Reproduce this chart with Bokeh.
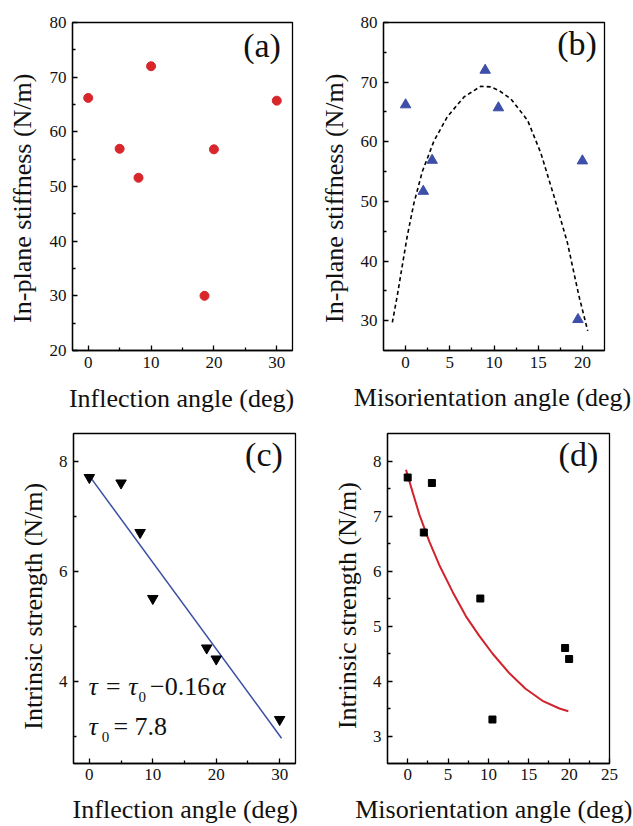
import math
from bokeh.plotting import figure
from bokeh.layouts import column, row
from bokeh.models import FixedTicker, Label, Range1d
from bokeh.embed import file_html
from bokeh.resources import INLINE

FONT = "Liberation Serif"
RED = "#d8262b"
BLUE = "#3d4fa8"
LINE_BLUE = "#3a4ea3"
CURVE_RED = "#d1232b"

# ---- panel (a): in-plane stiffness vs inflection angle ----
a_angle = [0, 5, 8, 10, 18.5, 20, 30]
a_stiff = [66.2, 56.9, 51.6, 72.0, 30.0, 56.8, 65.7]

# ---- panel (b): in-plane stiffness vs misorientation angle ----
b_angle = [0, 2, 3, 9, 10.5, 19.5, 20]
b_stiff = [66.2, 51.7, 56.9, 72.0, 65.7, 30.2, 56.8]
b_fit_x = [-1.5, -0.94, -0.38, 0.19, 0.94, 1.89, 3.2, 4.72, 6.6, 8.49, 9.62,
           10.57, 11.9, 13.8, 15.3, 16.8, 18.3, 19.6, 20.6]
b_fit_y = [29.7, 34.2, 39.2, 44.2, 49.7, 55.0, 60.1, 64.2, 67.5, 69.3, 69.2,
           68.6, 67.2, 63.6, 58.1, 50.8, 43.1, 34.2, 28.3]

# ---- panel (c): intrinsic strength vs inflection angle ----
c_angle = [0, 5, 8, 10, 18.5, 20, 30]
c_strength = [7.7, 7.6, 6.7, 5.5, 4.6, 4.4, 3.3]
c_fit_x = [0, 30.3]
c_fit_y = [7.73, 2.96]

# ---- panel (d): intrinsic strength vs misorientation angle ----
d_angle = [0, 2, 3, 9, 10.5, 19.5, 20]
d_strength = [7.7, 6.7, 7.6, 5.5, 3.3, 4.6, 4.4]
d_fit_x = [-0.21, 0.62, 1.44, 2.67, 3.91, 5.57, 7.2, 8.87, 10.5, 12.6, 14.6,
           16.7, 18.8, 19.9]
d_fit_y = [7.84, 7.43, 7.03, 6.54, 6.11, 5.62, 5.18, 4.82, 4.50, 4.14, 3.86,
           3.64, 3.50, 3.45]

# ---- ticks ----
a_xticks, a_xminor = [0, 10, 20, 30], [5, 15, 25]
a_yticks, a_yminor = [20, 30, 40, 50, 60, 70, 80], [25, 35, 45, 55, 65, 75]
b_xticks, b_xminor = [0, 5, 10, 15, 20], [2.5, 7.5, 12.5, 17.5]
b_yticks, b_yminor = [30, 40, 50, 60, 70, 80], [35, 45, 55, 65, 75]
c_xticks, c_xminor = [0, 10, 20, 30], [5, 15, 25]
c_yticks, c_yminor = [4, 6, 8], [3, 5, 7]
d_xticks, d_xminor = [0, 5, 10, 15, 20, 25], [2.5, 7.5, 12.5, 17.5, 22.5]
d_yticks, d_yminor = [3, 4, 5, 6, 7, 8], [3.5, 4.5, 5.5, 6.5, 7.5]

# ---- axis titles ----
stiff_title = "In-plane stiffness (N/m)"
strength_title = "Intrinsic strength (N/m)"
inflect_title = "Inflection angle (deg)"
misor_title = "Misorientation angle (deg)"

LABEL_PX = 26
TICK_SIZE = "17px"
PANEL_PX = 34
BASELINE_FIX = 0.38   # empirical correction of the rendered baseline (em)


def make_fig(w, h, xr, yr, borders):
    l, r, t, b = borders
    p = figure(width=w, height=h, x_range=Range1d(*xr), y_range=Range1d(*yr),
               output_backend="svg", toolbar_location=None, tools="",
               min_border_left=l, min_border_right=r,
               min_border_top=t, min_border_bottom=b)
    p.xgrid.visible = False
    p.ygrid.visible = False
    p.outline_line_color = "black"
    p.outline_line_width = 1.3
    return p


def text_strip(w, h):
    """A bare canvas (no axes) used to hold axis titles as plain text."""
    s = figure(width=w, height=h, x_range=Range1d(0, w), y_range=Range1d(0, h),
               output_backend="svg", toolbar_location=None, tools="",
               x_axis_type=None, y_axis_type=None,
               min_border_left=0, min_border_right=0,
               min_border_top=0, min_border_bottom=0)
    s.xgrid.visible = False
    s.ygrid.visible = False
    s.outline_line_color = None
    return s


def style_axes(p, xt, xm, yt, ym, xstand=6):
    p.xaxis[0].ticker = FixedTicker(ticks=xt, minor_ticks=xm)
    p.yaxis[0].ticker = FixedTicker(ticks=yt, minor_ticks=ym)
    for ax in (p.xaxis[0], p.yaxis[0]):
        ax.axis_line_color = "black"
        ax.axis_line_width = 1.3
        ax.major_tick_in = 5
        ax.major_tick_out = 0
        ax.minor_tick_in = 3
        ax.minor_tick_out = 0
        ax.major_tick_line_color = "black"
        ax.major_tick_line_width = 1.3
        ax.minor_tick_line_color = "black"
        ax.minor_tick_line_width = 1.3
        ax.major_label_text_font = FONT
        ax.major_label_text_font_size = TICK_SIZE
        ax.major_label_text_color = "#111111"
    p.xaxis[0].major_label_standoff = xstand
    p.yaxis[0].major_label_standoff = 6


def add_text(p, x, y, text, px=LABEL_PX, align="center", rotated=False,
             style="normal"):
    fix = BASELINE_FIX * px
    p.add_layout(Label(x=x, y=y, text=text, text_font=FONT,
                       text_font_size=f"{px}px", text_align=align,
                       text_baseline="alphabetic",
                       angle=math.pi / 2 if rotated else 0.0,
                       x_offset=-fix if rotated else 0,
                       y_offset=0 if rotated else fix,
                       text_font_style=style, text_color="#111111"))


# ---------------- top row ----------------
ya = text_strip(46, 378)
add_text(ya, 32, 175.5, stiff_title, rotated=True)

pa = make_fig(272, 378, (-2.5, 32.5), (20, 80), (25, 26, 21, 28))
style_axes(pa, a_xticks, a_xminor, a_yticks, a_yminor)
pa.scatter(a_angle, a_stiff, marker="circle", size=9, fill_color=RED,
           line_color=RED)
add_text(pa, 30.65, 73.4, "(a)", px=PANEL_PX, align="right")

yb = text_strip(39, 378)
add_text(yb, 26, 175.5, stiff_title, rotated=True)

pb = make_fig(276, 378, (-2.5, 22.5), (25, 80), (26, 29, 22, 27))
style_axes(pb, b_xticks, b_xminor, b_yticks, b_yminor)
pb.line(b_fit_x, b_fit_y, line_color="black", line_width=1.6,
        line_dash="4 3")
pb.scatter(b_angle, b_stiff, marker="triangle", size=10.5, fill_color=BLUE,
           line_color=BLUE)
add_text(pb, 21.64, 74.28, "(b)", px=PANEL_PX, align="right")

xtop = text_strip(633, 42)
add_text(xtop, 181, 11.7, inflect_title)
add_text(xtop, 492, 12.7, misor_title)

# ---------------- bottom row ----------------
yc = text_strip(50, 374)
add_text(yc, 43.3, 178.2, strength_title, rotated=True)

pc = make_fig(268, 374, (-2.5, 32.5), (2.5, 8.5), (23, 23, 13, 30))
style_axes(pc, c_xticks, c_xminor, c_yticks, c_yminor, xstand=5)
pc.line(c_fit_x, c_fit_y, line_color=LINE_BLUE, line_width=1.5)
pc.scatter(c_angle, c_strength, marker="inverted_triangle", size=10.5,
           fill_color="black", line_color="black")
add_text(pc, 30.5, 7.89, "(c)", px=PANEL_PX, align="right")
# fitted relation
add_text(pc, -0.14, 3.726, "τ = τ", align="left", style="italic")
add_text(pc, 7.73, 3.606, "0", px=15, align="left")
add_text(pc, 9.57, 3.726, "−0.16", align="left")
add_text(pc, 19.35, 3.726, "α", align="left", style="italic")
add_text(pc, -0.14, 3.0, "τ", align="left", style="italic")
add_text(pc, 1.97, 2.88, "0", px=15, align="left")
add_text(pc, 3.8, 3.0, "= 7.8", align="left")

yd = text_strip(46, 374)
add_text(yd, 38.7, 179, strength_title, rotated=True)

pd = make_fig(269, 374, (-2.5, 25), (2.5, 8.5), (23, 24, 13, 31))
style_axes(pd, d_xticks, d_xminor, d_yticks, d_yminor, xstand=5)
pd.line(d_fit_x, d_fit_y, line_color=CURVE_RED, line_width=2)
pd.scatter(d_angle, d_strength, marker="square", size=7, fill_color="black",
           line_color="black")
add_text(pd, 23.6, 7.89, "(d)", px=PANEL_PX, align="right")

xbot = text_strip(633, 32)
add_text(xbot, 184.7, 7.5, inflect_title)
add_text(xbot, 493.3, 7.5, misor_title)

layout = column(row(ya, pa, yb, pb), xtop, row(yc, pc, yd, pd), xbot)
open("out.html", "w").write(file_html(layout, INLINE))
